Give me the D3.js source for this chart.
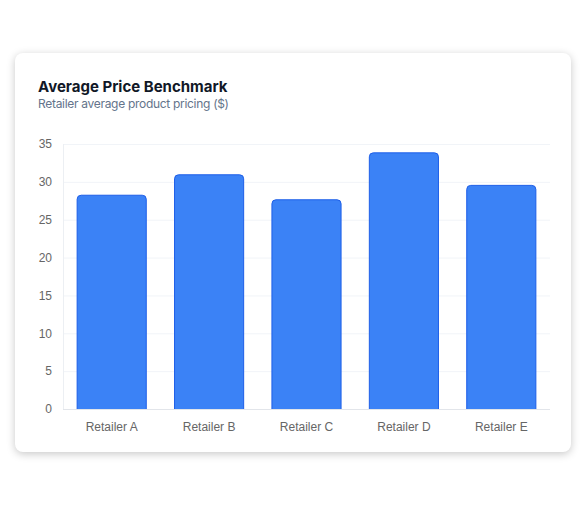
<!DOCTYPE html>
<head>
  <meta charset="utf-8">
  <script src="https://d3js.org/d3.v7.min.js"></script>
<style>
body { margin:0; background:#fff; }
.card {
  position:absolute; left:15px; top:53px; width:556px; height:399px;
  background:#fff; border-radius:8px;
  box-shadow: 0 2px 8px rgba(0,0,0,0.22);
}
.title { font-family: Inter, "Noto Sans", sans-serif; font-weight:700; font-size:15px; fill:#111827; }
.subtitle { font-family: Inter, "Noto Sans", sans-serif; font-size:12px; letter-spacing:-0.3px; fill:#64748b; }
.tick text { font-family: "Liberation Sans", Arial, sans-serif; font-size:12px; fill:#666; }
</style>
</head>
<body>
<div class="card"></div>
<script>
// data
var retailers = ['Retailer A', 'Retailer B', 'Retailer C', 'Retailer D', 'Retailer E'];
var avgPrice = [28.3, 31.0, 27.7, 33.9, 29.6];
var yTicks = [0, 5, 10, 15, 20, 25, 30, 35];

var margin = {top: 144, right: 35, bottom: 96, left: 63},
    W = 585, H = 505,
    width = W - margin.left - margin.right,
    height = H - margin.top - margin.bottom;

var svg = d3.select("body").append("svg")
    .attr("width", W)
    .attr("height", H)
    .style("position", "absolute")
    .style("left", 0).style("top", 0);

svg.append("text").attr("class", "title")
    .attr("x", 38).attr("y", 92)
    .text("Average Price Benchmark");
svg.append("text").attr("class", "subtitle")
    .attr("x", 38).attr("y", 108)
    .text("Retailer average product pricing ($)");

var g = svg.append("g")
    .attr("transform", "translate(" + margin.left + "," + margin.top + ")");

var x = d3.scaleBand().domain(retailers).range([0, width]).paddingInner(0.28).paddingOuter(0.14);
var y = d3.scaleLinear().domain([0, 35]).range([height, 0]);

// grid
g.selectAll(".grid").data(yTicks).enter().append("line")
    .attr("x1", 0).attr("x2", width)
    .attr("y1", d => y(d) + 0.5).attr("y2", d => y(d) + 0.5)
    .attr("stroke", d => d === 0 ? "#e2e5ea" : "#f1f4f8")
    .attr("stroke-width", 1);
g.append("line")
    .attr("x1", 0.5).attr("x2", 0.5).attr("y1", 0).attr("y2", height)
    .attr("stroke", "#eceff3");

// y axis
var yAxis = g.append("g")
    .call(d3.axisLeft(y).tickValues(yTicks).tickSize(0).tickPadding(11));
yAxis.select(".domain").remove();

// x axis
var xAxis = g.append("g")
    .attr("transform", "translate(0," + height + ")")
    .call(d3.axisBottom(x).tickSize(0).tickPadding(13));
xAxis.select(".domain").remove();
xAxis.selectAll("text").attr("dy", "0.71em");

// bars with rounded top corners
function barPath(x0, y0, w, h, r) {
  return "M" + x0 + "," + (y0 + h) +
    "V" + (y0 + r) +
    "Q" + x0 + "," + y0 + " " + (x0 + r) + "," + y0 +
    "H" + (x0 + w - r) +
    "Q" + (x0 + w) + "," + y0 + " " + (x0 + w) + "," + (y0 + r) +
    "V" + (y0 + h);
}
g.selectAll(".bar").data(avgPrice).enter().append("path")
    .attr("class", "bar")
    .attr("d", (d, i) => barPath(x(retailers[i]) + 0.5, y(d) + 0.5, x.bandwidth() - 1, height - y(d) - 0.5, 4))
    .attr("fill", "#3b82f6")
    .attr("stroke", "#1d5ee8")
    .attr("stroke-width", 1);
</script>
</body>
